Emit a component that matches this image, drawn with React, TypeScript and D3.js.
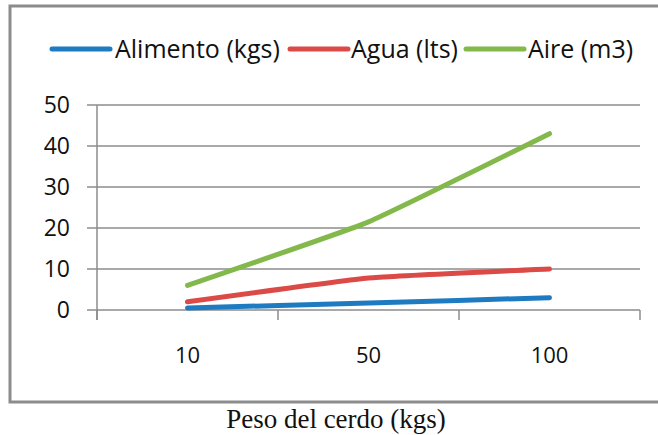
import React from "react";
import * as d3 from "d3";

const categories = ["10", "50", "100"];
const alimento = [0.5, 1.7, 3];
const agua = [2, 7.8, 10];
const aire = [6, 21.5, 43];
const yTicks = [0, 10, 20, 30, 40, 50];

const series = [
  { name: "Alimento (kgs)", values: alimento, color: "#1f7bc1" },
  { name: "Agua (lts)", values: agua, color: "#dc4a48" },
  { name: "Aire (m3)", values: aire, color: "#83b84b" },
];

const W = 658;
const H = 435;
const plot = { left: 97, right: 640, top: 105, bottom: 310 };
const sans = "'Open Sans', 'Noto Sans', sans-serif";

export default function App() {
  const x = d3.scaleBand<string>().domain(categories).range([plot.left, plot.right]);
  const y = d3.scaleLinear().domain([0, 50]).range([plot.bottom, plot.top]);
  const line = d3
    .line<number>()
    .x((_, i) => (x(categories[i]) as number) + x.bandwidth() / 2)
    .y((d) => y(d))
    .curve(d3.curveCardinal.tension(0.65));

  const boundaries = categories.map((c) => x(c) as number).concat([plot.right]);

  const legendItems = [
    { lineX: 52, textX: 115 },
    { lineX: 290, textX: 351 },
    { lineX: 466, textX: 528 },
  ];

  return (
    <svg width={W} height={H} style={{ position: "absolute", left: 0, top: 0 }}>
      <rect x={0} y={0} width={W} height={H} fill="#fff" />
      <rect x={10} y={6} width={720} height={396} fill="#fff" stroke="#8c8c8c" strokeWidth={3} />

      {/* legend */}
      {series.map((s, i) => (
        <g key={s.name}>
          <line
            x1={legendItems[i].lineX}
            x2={legendItems[i].lineX + 58}
            y1={49}
            y2={49}
            stroke={s.color}
            strokeWidth={5}
            strokeLinecap="round"
          />
          <text
            x={legendItems[i].textX}
            y={49}
            dy="0.35em"
            fontFamily={sans}
            fontSize={25}
            fill="#111"
          >
            {s.name}
          </text>
        </g>
      ))}

      {/* gridlines and y axis */}
      {yTicks.map((t) => (
        <g key={t}>
          <line x1={87} x2={plot.right} y1={y(t)} y2={y(t)} stroke="#8c8c8c" strokeWidth={1.5} />
          <text
            x={70}
            y={y(t)}
            dy="0.36em"
            textAnchor="end"
            fontFamily={sans}
            fontSize={23}
            fill="#111"
          >
            {t}
          </text>
        </g>
      ))}
      <line x1={plot.left} x2={plot.left} y1={plot.top} y2={plot.bottom + 10} stroke="#8c8c8c" strokeWidth={1.5} />

      {/* x axis ticks */}
      {boundaries.map((b, i) => (
        <line key={i} x1={b} x2={b} y1={plot.bottom} y2={plot.bottom + 10} stroke="#8c8c8c" strokeWidth={1.5} />
      ))}
      {categories.map((c) => (
        <text
          key={c}
          x={(x(c) as number) + x.bandwidth() / 2}
          y={363}
          textAnchor="middle"
          fontFamily={sans}
          fontSize={22}
          fill="#111"
        >
          {c}
        </text>
      ))}

      {/* series */}
      {series.map((s) => (
        <path
          key={s.name}
          d={line(s.values) ?? ""}
          fill="none"
          stroke={s.color}
          strokeWidth={5}
          strokeLinecap="round"
          strokeLinejoin="round"
        />
      ))}

      <text
        x={336}
        y={428}
        textAnchor="middle"
        fontFamily="'Liberation Serif', 'DejaVu Serif', serif"
        fontSize={27}
        fill="#111"
      >
        Peso del cerdo (kgs)
      </text>
    </svg>
  );
}
